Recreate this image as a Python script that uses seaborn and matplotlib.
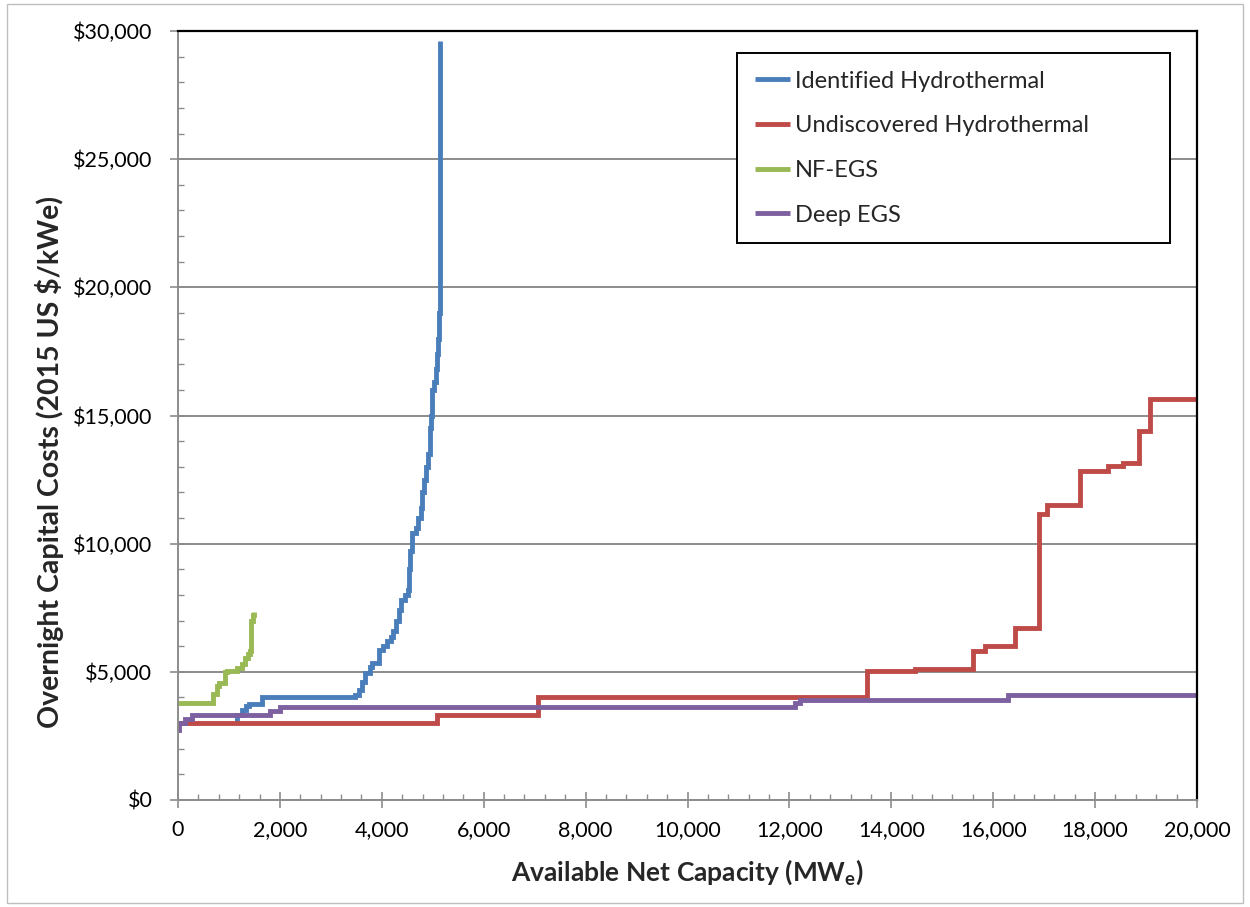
import matplotlib
matplotlib.use("Agg")
import matplotlib.pyplot as plt
import matplotlib.ticker as mticker
from matplotlib.patches import Rectangle
import seaborn as sns
import pandas as pd

# ---- data ----
series_names = ["Identified Hydrothermal", "Undiscovered Hydrothermal", "NF-EGS", "Deep EGS"]

ident_x = [1120, 1150, 1250, 1330, 1400, 1650, 3480, 3550, 3620, 3680, 3760, 3800, 3950, 4030,
           4100, 4180, 4220, 4280, 4330, 4380, 4450, 4520, 4540, 4560, 4600, 4680, 4720, 4760,
           4790, 4830, 4870, 4900, 4940, 4960, 4980, 5020, 5060, 5090, 5110, 5130, 5140]
ident_y = [3050, 3300, 3500, 3650, 3750, 4000, 4100, 4300, 4600, 4950, 5200, 5350, 5850, 6000,
           6200, 6350, 6600, 7000, 7400, 7800, 8000, 8200, 9000, 9700, 10400, 10600, 11000, 11400,
           12000, 12500, 13000, 13500, 14500, 15000, 16000, 16300, 16800, 17400, 18000, 19000, 29600]

undisc_x = [0, 5080, 7070, 13520, 14470, 15610, 15840, 16430, 16900, 17050, 17700, 18260,
            18540, 18870, 19080, 20000]
undisc_y = [3000, 3300, 4000, 5030, 5100, 5820, 6020, 6700, 11150, 11500, 12850, 13030,
            13130, 14400, 15650, 15650]

nfegs_x = [0, 680, 760, 800, 930, 960, 1150, 1250, 1320, 1380, 1420, 1430, 1440, 1470, 1490]
nfegs_y = [3800, 4150, 4450, 4550, 5000, 5050, 5150, 5300, 5550, 5700, 5800, 6500, 7000, 7200, 7350]

deep_x = [0, 10, 130, 270, 1800, 2000, 12110, 12200, 16300, 20000]
deep_y = [2750, 3000, 3150, 3300, 3480, 3640, 3800, 3920, 4110, 4110]

colors = ["#4A7EBB", "#BE4B48", "#98B954", "#7D60A0"]

x_ticks = list(range(0, 20001, 2000))
y_ticks = list(range(0, 30001, 5000))

# ---- figure ----
sns.set_theme(style="white")
plt.rcParams['font.family'] = ['Lato', 'DejaVu Sans']

W, H = 1250, 907
fig = plt.figure(figsize=(W / 100, H / 100), dpi=100)
ax = fig.add_axes([178 / W, 1 - 800 / H, (1197 - 178) / W, (800 - 31) / H])

all_x = [ident_x, undisc_x, nfegs_x, deep_x]
all_y = [ident_y, undisc_y, nfegs_y, deep_y]
for name, xs, ys, c in zip(series_names, all_x, all_y, colors):
    df = pd.DataFrame({"x": xs, "y": ys})
    sns.lineplot(data=df, x="x", y="y", ax=ax, color=c, linewidth=3.5,
                 drawstyle="steps-post", estimator=None, sort=False, label=name,
                 solid_capstyle="butt", solid_joinstyle="miter")

ax.set_xlim(0, 20000)
ax.set_ylim(0, 30000)
ax.set_xticks(x_ticks)
ax.set_yticks(y_ticks)
ax.xaxis.set_minor_locator(mticker.MultipleLocator(400))
ax.yaxis.set_minor_locator(mticker.MultipleLocator(1000))
ax.xaxis.set_major_formatter(mticker.FuncFormatter(lambda v, p: f"{int(v):,}"))
ax.yaxis.set_major_formatter(mticker.FuncFormatter(lambda v, p: f"${int(v):,}"))

ax.grid(axis="y", which="major", color="#8C8C8C", linewidth=1.4)
ax.grid(axis="x", visible=False)
ax.set_axisbelow(True)

tick_col = "#8C8C8C"
ax.tick_params(axis="both", which="major", direction="inout", length=11, width=1.2,
               color=tick_col, labelsize=15.5, labelcolor="#000000")
ax.tick_params(axis="x", which="major", pad=9)
ax.tick_params(axis="y", which="major", pad=13)
ax.tick_params(axis="both", which="minor", direction="in", length=4, width=1.0, color=tick_col)
ax.tick_params(axis="x", which="both", bottom=True)
ax.tick_params(axis="y", which="both", left=True)

for s in ["left", "bottom"]:
    ax.spines[s].set_color(tick_col)
    ax.spines[s].set_linewidth(1.4)
for s in ["top", "right"]:
    ax.spines[s].set_color("#000000")
    ax.spines[s].set_linewidth(1.6)

ax.set_xlabel("Available Net Capacity (MW$_\\mathregular{e}$)", fontsize=19, fontweight="bold",
              labelpad=12)
ax.set_ylabel("Overnight Capital Costs (2015 US $/kWe)", fontsize=20.5, fontweight="bold")
ax.yaxis.set_label_coords(-0.112, 0.44)

leg = ax.legend(loc="upper left", bbox_to_anchor=(0.5486, 0.7139, 0.4249, 0.2575),
                mode="expand", fontsize=17, frameon=True, fancybox=False,
                edgecolor="#000000", framealpha=1, handlelength=1.5, handletextpad=0.2,
                labelspacing=1.0, borderpad=0.75, borderaxespad=0)
leg.get_frame().set_linewidth(1.4)

fig.patches.append(Rectangle((7 / W, 1 - 903 / H), (1243 - 7) / W, (903 - 4) / H,
                             transform=fig.transFigure, fill=False, edgecolor="#BFBFBF",
                             linewidth=1.0))

fig.savefig("out.png", dpi=100)
